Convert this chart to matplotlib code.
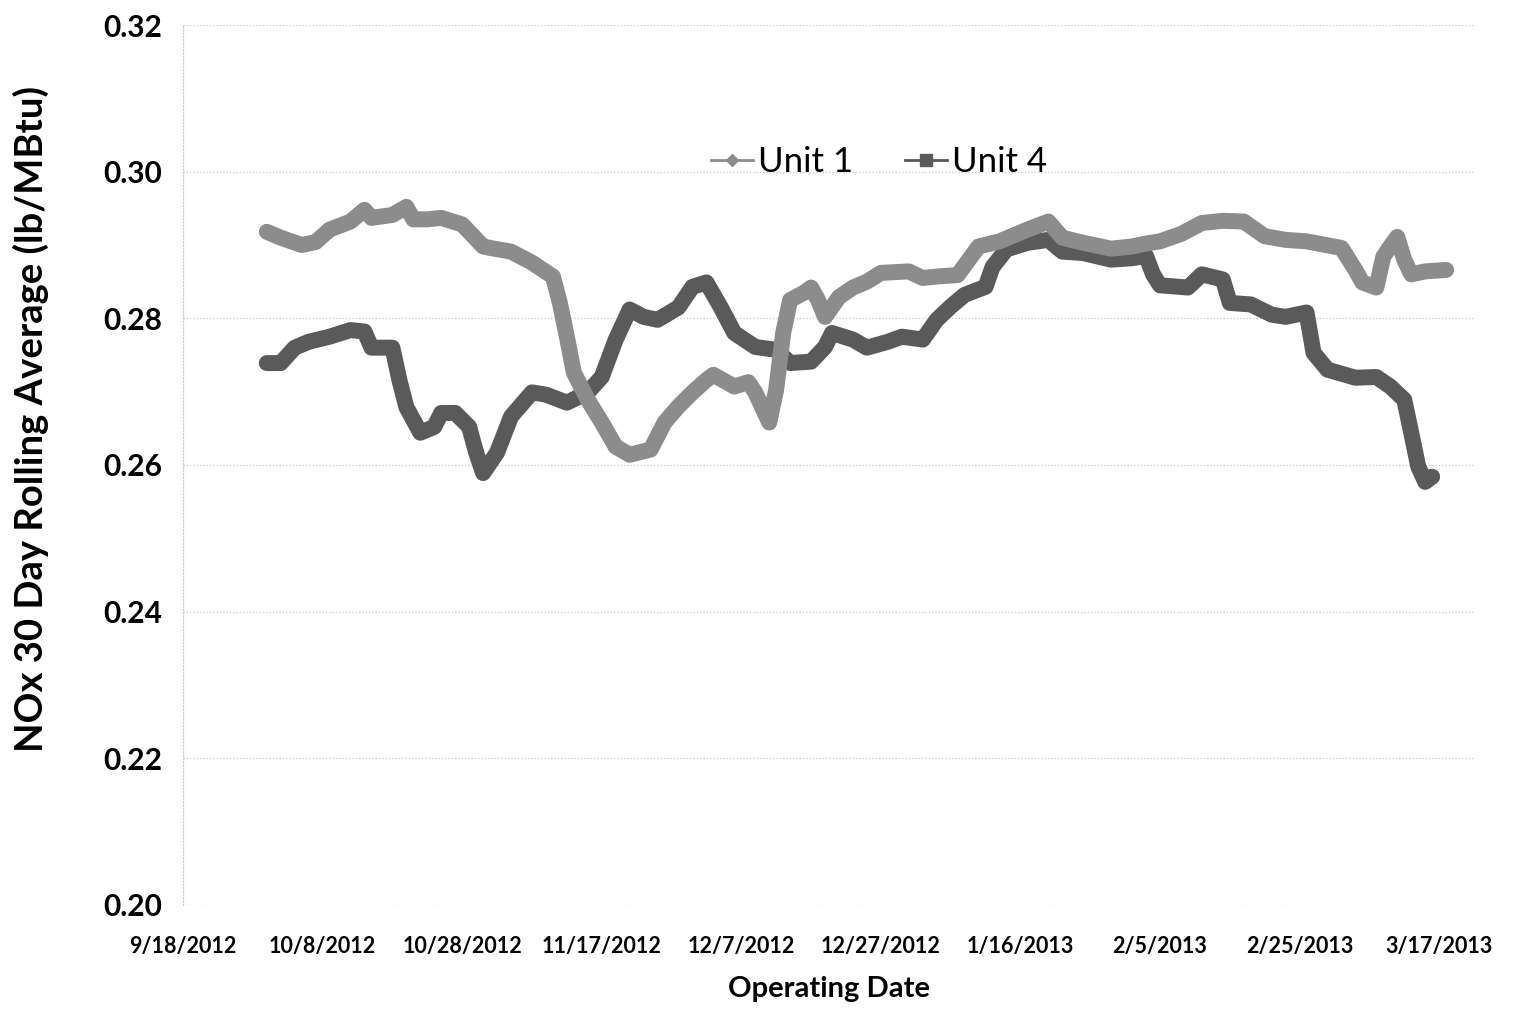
import numpy as np
import pandas as pd
import matplotlib as mpl
mpl.use('Agg')
import matplotlib.pyplot as plt
from matplotlib.lines import Line2D

# Unit 1 readings (date, NOx 30 day rolling avg)
unit1_dates = ['2012-09-30','2012-10-02','2012-10-05','2012-10-07','2012-10-09','2012-10-12',
	'2012-10-14','2012-10-15','2012-10-18','2012-10-20','2012-10-21','2012-10-23','2012-10-25',
	'2012-10-28','2012-10-31','2012-11-01','2012-11-04','2012-11-07','2012-11-10','2012-11-11',
	'2012-11-12','2012-11-13','2012-11-15','2012-11-17','2012-11-19','2012-11-21','2012-11-24',
	'2012-11-26','2012-11-28','2012-11-30','2012-12-02','2012-12-03','2012-12-06','2012-12-08',
	'2012-12-09','2012-12-11','2012-12-12','2012-12-13','2012-12-14','2012-12-16','2012-12-17',
	'2012-12-18','2012-12-19','2012-12-21','2012-12-23','2012-12-25','2012-12-27','2012-12-31',
	'2013-01-02','2013-01-04','2013-01-07','2013-01-10','2013-01-13','2013-01-17','2013-01-20',
	'2013-01-22','2013-01-25','2013-01-29','2013-02-01','2013-02-03','2013-02-05','2013-02-08',
	'2013-02-11','2013-02-14','2013-02-17','2013-02-20','2013-02-23','2013-02-26','2013-03-03',
	'2013-03-05','2013-03-06','2013-03-08','2013-03-09','2013-03-10','2013-03-11','2013-03-12',
	'2013-03-13','2013-03-15','2013-03-18']
unit1_vals = [0.2918,0.2910,0.2900,0.2904,0.2921,0.2932,
	0.2948,0.2937,0.2941,0.2952,0.2935,0.2935,0.2937,
	0.2928,0.2898,0.2896,0.2891,0.2876,0.2857,0.2821,
	0.2775,0.2726,0.2689,0.2658,0.2625,0.2614,0.2621,
	0.2658,0.2680,0.2699,0.2716,0.2723,0.2707,0.2713,
	0.2699,0.2658,0.2703,0.2780,0.2825,0.2835,0.2842,
	0.2825,0.2802,0.2829,0.2842,0.2850,0.2862,0.2864,
	0.2855,0.2857,0.2859,0.2898,0.2905,0.2921,0.2932,
	0.2910,0.2903,0.2895,0.2898,0.2902,0.2905,0.2915,
	0.2930,0.2933,0.2932,0.2912,0.2907,0.2905,0.2896,
	0.2866,0.2849,0.2842,0.2884,0.2898,0.2911,0.2880,
	0.2860,0.2864,0.2866]

# Unit 4 readings
unit4_dates = ['2012-09-30','2012-10-02','2012-10-04','2012-10-06','2012-10-09','2012-10-12',
	'2012-10-14','2012-10-15','2012-10-18','2012-10-19','2012-10-20','2012-10-22','2012-10-24',
	'2012-10-25','2012-10-27','2012-10-29','2012-10-30','2012-10-31','2012-11-02','2012-11-04',
	'2012-11-07','2012-11-09','2012-11-12','2012-11-15','2012-11-17','2012-11-19','2012-11-21',
	'2012-11-23','2012-11-25','2012-11-28','2012-11-30','2012-12-02','2012-12-04','2012-12-06',
	'2012-12-09','2012-12-12','2012-12-14','2012-12-17','2012-12-19','2012-12-20','2012-12-23',
	'2012-12-25','2012-12-28','2012-12-30','2013-01-02','2013-01-04','2013-01-06','2013-01-08',
	'2013-01-11','2013-01-12','2013-01-14','2013-01-17','2013-01-20','2013-01-22','2013-01-25',
	'2013-01-29','2013-02-01','2013-02-03','2013-02-04','2013-02-05','2013-02-09','2013-02-11',
	'2013-02-14','2013-02-15','2013-02-18','2013-02-21','2013-02-23','2013-02-26','2013-02-27',
	'2013-03-01','2013-03-05','2013-03-08','2013-03-10','2013-03-12','2013-03-13','2013-03-14',
	'2013-03-15','2013-03-16']
unit4_vals = [0.2739,0.2739,0.2760,0.2768,0.2775,0.2784,
	0.2782,0.2760,0.2760,0.2716,0.2679,0.2644,0.2652,
	0.2671,0.2671,0.2652,0.2617,0.2589,0.2617,0.2666,
	0.2699,0.2696,0.2685,0.2699,0.2720,0.2771,0.2812,
	0.2802,0.2798,0.2815,0.2843,0.2849,0.2816,0.2780,
	0.2761,0.2757,0.2739,0.2741,0.2761,0.2780,0.2771,
	0.2760,0.2768,0.2775,0.2771,0.2798,0.2816,0.2832,
	0.2843,0.2870,0.2894,0.2903,0.2907,0.2891,0.2889,
	0.2880,0.2882,0.2885,0.2860,0.2845,0.2842,0.2860,
	0.2853,0.2821,0.2819,0.2805,0.2802,0.2808,0.2753,
	0.2730,0.2719,0.2720,0.2707,0.2689,0.2644,0.2598,
	0.2577,0.2584]

tick_dates = ['2012-09-18','2012-10-08','2012-10-28','2012-11-17','2012-12-07',
	'2012-12-27','2013-01-16','2013-02-05','2013-02-25','2013-03-17']
tick_labels = ['9/18/2012','10/8/2012','10/28/2012','11/17/2012','12/7/2012',
	'12/27/2012','1/16/2013','2/5/2013','2/25/2013','3/17/2013']
y_ticks = [0.20,0.22,0.24,0.26,0.28,0.30,0.32]

plt.rcParams['font.family'] = ['Lato','DejaVu Sans']

fig = plt.figure(figsize=(15.14,10.09), dpi=100)
ax = fig.add_axes([0.1209,0.1031,0.8527,0.8721])

d1 = pd.to_datetime(unit1_dates)
d4 = pd.to_datetime(unit4_dates)

ax.plot(d1, unit1_vals, color='#8c8c8c', linewidth=11.5,
		solid_joinstyle='round', solid_capstyle='round', zorder=3)
ax.plot(d4, unit4_vals, color='#5a5a5a', linewidth=11.5,
		solid_joinstyle='round', solid_capstyle='round', zorder=2)

ax.set_ylim(0.20,0.32)
ax.set_yticks(y_ticks)
ax.set_yticklabels(['%.2f' % v for v in y_ticks], fontsize=21.5, fontweight='bold')
ax.set_xlim(pd.Timestamp('2012-09-18'), pd.Timestamp('2013-03-22'))
ax.set_xticks(pd.to_datetime(tick_dates))
ax.set_xticklabels(tick_labels, fontsize=15.5, fontweight='bold')
ax.tick_params(axis='both', length=0)
ax.tick_params(axis='x', pad=22)
ax.tick_params(axis='y', pad=15)

#faint dotted grid like the scan
ax.yaxis.grid(True, color='#c8c8c8', linestyle=':', linewidth=0.9, zorder=0)
for s in ['top','right','bottom']:
	ax.spines[s].set_visible(False)
ax.spines['left'].set_color('#cccccc')
ax.spines['left'].set_linestyle(':')
ax.spines['left'].set_linewidth(0.9)

ax.set_ylabel('NOx 30 Day Rolling Average (lb/MBtu)', fontsize=27.5, fontweight='bold')
ax.yaxis.set_label_coords(-0.104, 0.552)
ax.set_xlabel('Operating Date', fontsize=21, fontweight='bold', labelpad=14)

handles = [Line2D([0],[0], color='#8c8c8c', lw=2, marker='D', markersize=6),
		   Line2D([0],[0], color='#5a5a5a', lw=2, marker='s', markersize=9)]
ax.legend(handles, ['Unit 1','Unit 4'], loc='center', bbox_to_anchor=(0.539,0.844),
		  ncol=2, frameon=False, fontsize=25, handlelength=1.2, columnspacing=1.5,
		  handletextpad=0.15)

plt.savefig('out.png', dpi=100)
